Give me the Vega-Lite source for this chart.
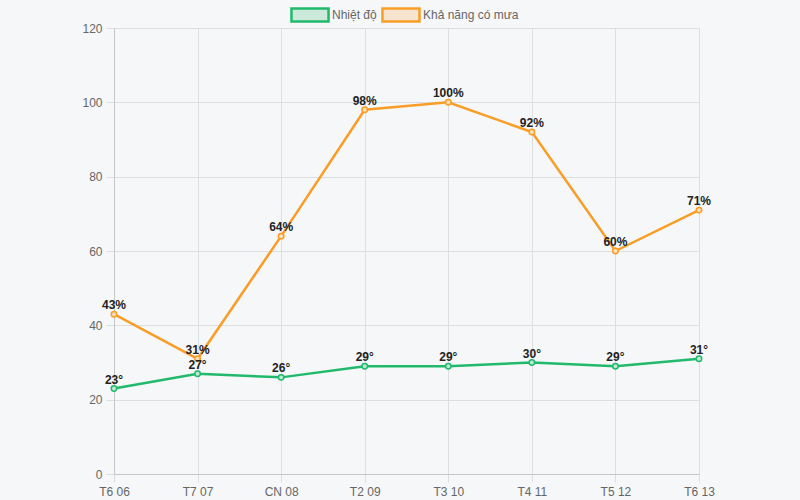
{
  "$schema": "https://vega.github.io/schema/vega-lite/v6.json",
  "autosize": "none",
  "width": 585,
  "height": 446,
  "padding": {"left": 114, "top": 28, "right": 101, "bottom": 26},
  "background": "#f5f7f8",
  "config": {
    "view": {"stroke": null},
    "font": "Liberation Sans",
    "axis": {"labelFont": "Liberation Sans", "labelFontSize": 12, "labelColor": "#666666", "gridColor": "#dcdedf", "tickColor": "#dcdedf", "domainColor": "#c4c6c8", "tickSize": 8, "labelPadding": 4}
  },
  "data": {"values": [
    {"day": "T6 06", "series": "Nhiệt độ", "value": 23, "label": "23°"},
    {"day": "T7 07", "series": "Nhiệt độ", "value": 27, "label": "27°"},
    {"day": "CN 08", "series": "Nhiệt độ", "value": 26, "label": "26°"},
    {"day": "T2 09", "series": "Nhiệt độ", "value": 29, "label": "29°"},
    {"day": "T3 10", "series": "Nhiệt độ", "value": 29, "label": "29°"},
    {"day": "T4 11", "series": "Nhiệt độ", "value": 30, "label": "30°"},
    {"day": "T5 12", "series": "Nhiệt độ", "value": 29, "label": "29°"},
    {"day": "T6 13", "series": "Nhiệt độ", "value": 31, "label": "31°"},
    {"day": "T6 06", "series": "Khả năng có mưa", "value": 43, "label": "43%"},
    {"day": "T7 07", "series": "Khả năng có mưa", "value": 31, "label": "31%"},
    {"day": "CN 08", "series": "Khả năng có mưa", "value": 64, "label": "64%"},
    {"day": "T2 09", "series": "Khả năng có mưa", "value": 98, "label": "98%"},
    {"day": "T3 10", "series": "Khả năng có mưa", "value": 100, "label": "100%"},
    {"day": "T4 11", "series": "Khả năng có mưa", "value": 92, "label": "92%"},
    {"day": "T5 12", "series": "Khả năng có mưa", "value": 60, "label": "60%"},
    {"day": "T6 13", "series": "Khả năng có mưa", "value": 71, "label": "71%"}
  ]},
  "encoding": {
    "x": {"field": "day", "type": "ordinal", "sort": null, "scale": {"type": "point", "padding": 0},
          "axis": {"title": null, "labelAngle": 0, "grid": true, "domain": true}},
    "y": {"field": "value", "type": "quantitative", "scale": {"domain": [0, 120], "nice": false},
          "axis": {"title": null, "values": [0, 20, 40, 60, 80, 100, 120], "grid": true}},
    "color": {"field": "series", "type": "nominal", "sort": ["Nhiệt độ", "Khả năng có mưa"],
              "scale": {"domain": ["Nhiệt độ", "Khả năng có mưa"], "range": ["#21b96b", "#f99d27"]}}
  },
  "layer": [
    {"mark": {"type": "line", "strokeWidth": 2.5},
     "encoding": {"color": {"field": "series", "type": "nominal", "sort": ["Nhiệt độ", "Khả năng có mưa"],
        "legend": {"orient": "none", "direction": "horizontal", "legendX": 188, "legendY": -21, "title": null,
          "gridAlign": "none",
          "symbolType": "M-2.85,-1H2.85V1H-2.85Z", "symbolSize": 169, "symbolStrokeWidth": 2.5,
          "labelOffset": 14, "columnPadding": 0, "labelFontSize": 12, "labelColor": "#666666", "labelFont": "Liberation Sans",
          "encode": {"symbols": {"update": {"fill": {"scale": "color", "field": "value"}, "fillOpacity": {"value": 0.2}}}}}}}},
    {"mark": {"type": "point", "filled": true, "size": 30, "strokeWidth": 1.5, "opacity": 1},
     "encoding": {"stroke": {"field": "series", "type": "nominal", "scale": {"domain": ["Nhiệt độ", "Khả năng có mưa"], "range": ["#21b96b", "#f99d27"]}, "legend": null},
                  "fill": {"condition": {"test": "datum.series === 'Nhiệt độ'", "value": "#bfe9d2"}, "value": "#fde0bb"},
                  "color": {"value": null}}},
    {"mark": {"type": "text", "baseline": "bottom", "dy": -2, "fontSize": 12, "fontWeight": "bold", "color": "#222222"},
     "encoding": {"text": {"field": "label"}, "color": {"value": "#222222"}}}
  ]
}
